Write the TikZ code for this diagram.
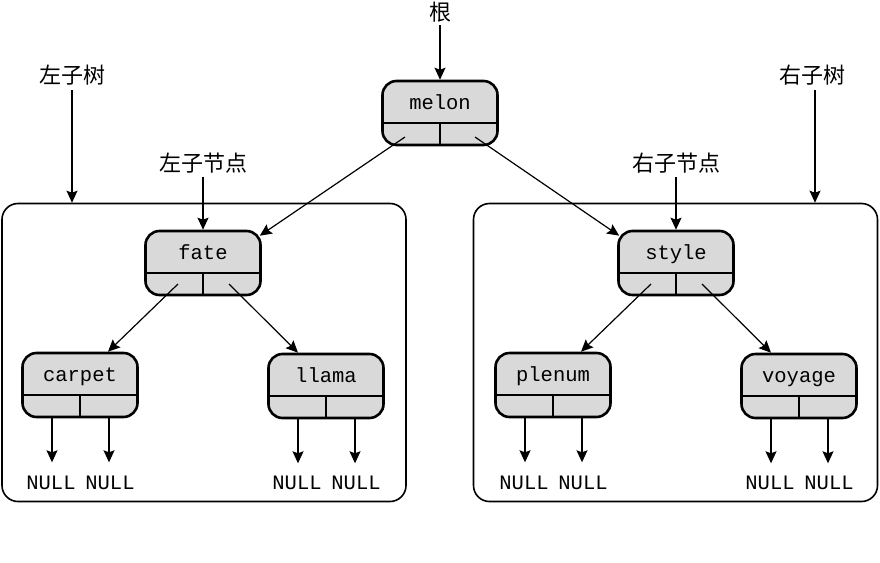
\documentclass[tikz,border=0pt]{standalone}
\usepackage{fontspec}
\setmonofont{Liberation Mono}
\newfontfamily\cjk{Noto Sans CJK SC}
\usetikzlibrary{calc,arrows.meta}
\tikzset{
  tbox/.style={draw=black, line width=2.6pt, fill=gray!30, rounded corners=14pt,
    minimum width=115pt, minimum height=64pt, inner sep=0pt},
  tlabel/.style={font=\ttfamily\fontsize{20.5}{24}\selectfont, inner sep=0pt, anchor=base},
  cjklabel/.style={font=\cjk\fontsize{22}{24}\selectfont, inner sep=0pt},
  nulllabel/.style={font=\ttfamily\fontsize{20.5}{24}\selectfont, inner sep=0pt, anchor=base},
  divider/.style={line width=1.1pt},
  subtree/.style={draw=black, line width=1.6pt, rounded corners=16pt,
    minimum width=404pt, minimum height=298pt, inner sep=0pt},
  arr/.style={line width=1.2pt, -{Stealth[length=12pt,width=11pt,inset=2pt]}},
}
\newcommand{\treebox}[4]{%
  \node[tbox] (#1) at (#2,#3) {};
  \node[tlabel] (#1-t) at ($(#1.north)+(0,30)$) {#4};
  \draw[divider] ($(#1.west)+(0,10)$) -- ($(#1.east)+(0,10)$);
  \draw[divider] ($(#1.center)+(0,10)$) -- (#1.south);
}
\begin{document}
\begin{tikzpicture}[x=1pt,y=-1pt]
\useasboundingbox (0,0) rectangle (880,562);

% subtree frames
\node[subtree] (L) at (204,352.5) {};
\node[subtree] (R) at (675.5,352.5) {};

% tree nodes
\treebox{melon}{440}{113}{melon}
\treebox{fate}{203}{263}{fate}
\treebox{style}{676}{263}{style}
\treebox{carpet}{80}{385}{carpet}
\treebox{llama}{326}{386}{llama}
\treebox{plenum}{553}{385}{plenum}
\treebox{voyage}{799}{386}{voyage}

% labels
\node[cjklabel] (root) at (440,12) {根};
\node[cjklabel] (lst) at (72,75) {左子树};
\node[cjklabel] (rst) at (812,75) {右子树};
\node[cjklabel] (lch) at (203,163) {左子节点};
\node[cjklabel] (rch) at (676,163) {右子节点};

\draw[arr] ($(root.south)+(0,3)$) -- (melon.north);
\draw[arr] ($(lst.south)+(0,5)$) -- (lst.south |- L.north);
\draw[arr] ($(rst.south)+(3,5)$) -- ($(rst.south |- R.north)+(3,0)$);
\draw[arr] ($(lch.south)+(0,4)$) -- (fate.north);
\draw[arr] ($(rch.south)+(0,4)$) -- (style.north);

% tree edges
\draw[arr] ($(melon.center)+(-35,24)$) -- ($(fate.north east)+(-2,6)$);
\draw[arr] ($(melon.center)+(35,24)$) -- ($(style.north west)+(2,6)$);
\draw[arr] ($(fate.center)+(-25,21)$) -- ($(carpet.north)+(28,0)$);
\draw[arr] ($(fate.center)+(26,21)$) -- ($(llama.north)+(-28,0)$);
\draw[arr] ($(style.center)+(-25,21)$) -- ($(plenum.north)+(28,0)$);
\draw[arr] ($(style.center)+(26,21)$) -- ($(voyage.north)+(-28,0)$);

% NULL leaves
\foreach \b/\x in {carpet/80, llama/326, plenum/553, voyage/799}{
  \node[nulllabel] (\b-nl) at (\x-29,489) {NULL};
  \node[nulllabel] (\b-nr) at (\x+30,489) {NULL};
  \draw[arr] ($(\b.south)+(-28,0)$) -- ($(\b.south)+(-28,44)$);
  \draw[arr] ($(\b.south)+(29,0)$) -- ($(\b.south)+(29,44)$);
}
\end{tikzpicture}
\end{document}
